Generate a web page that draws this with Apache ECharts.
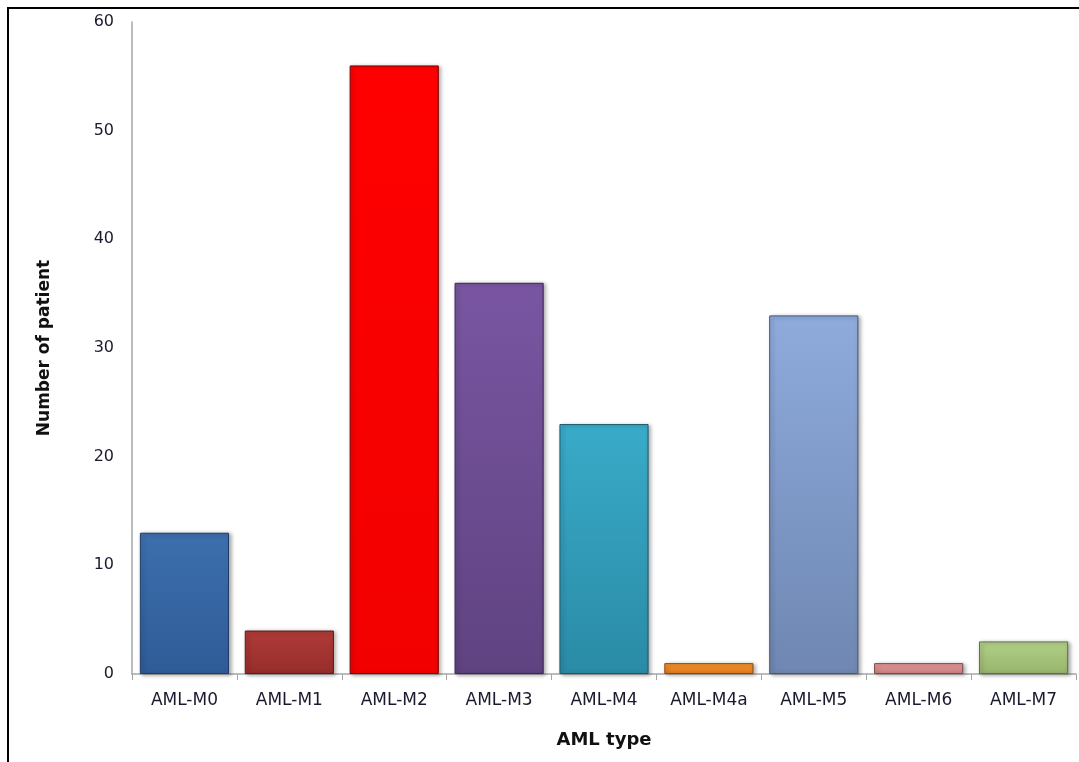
<!DOCTYPE html>
<html lang="en">
<head>
    <meta charset="UTF-8">
    <title>AML type</title>
    <script src="https://cdn.jsdelivr.net/npm/echarts@6/dist/echarts.min.js"></script>
    <style>
        html, body { margin: 0; padding: 0; background: #fff; }
        #frame { position: absolute; left: 7px; top: 7px; width: 1100px; height: 800px;
                 border-left: 2px solid #000; border-top: 2px solid #000; }
        #chart { position: absolute; left: 0; top: 0; width: 1079px; height: 762px; }
    </style>
</head>
<body>
<div id="frame"></div>
<div id="chart"></div>
<script type="text/javascript">
    // data
    var types = ['AML-M0', 'AML-M1', 'AML-M2', 'AML-M3', 'AML-M4', 'AML-M4a', 'AML-M5', 'AML-M6', 'AML-M7'];
    var patients = [13, 4, 56, 36, 23, 1, 33, 1, 3];
    var yTicks = [0, 10, 20, 30, 40, 50, 60];

    // bar colours, top / bottom of the fill
    var topColors = ['#3d6fae', '#b03b38', '#ff0000', '#7a56a2', '#39abc9', '#f7952f', '#8eabdc', '#e79a9a', '#b2cf88'];
    var bottomColors = ['#2f5c97', '#962d2a', '#f20000', '#5f4381', '#2a8ba6', '#e07a1c', '#6f87b2', '#cc8080', '#97b56c'];
    var edgeColors = ['#1f3d66', '#5e1a18', '#7a0000', '#3b2852', '#195a6c', '#8a4a10', '#445877', '#7a4a4a', '#5e7343'];

    var chart = echarts.init(document.getElementById('chart'));

    var barData = [];
    for (var i = 0; i < patients.length; i++) {
        barData.push({
            value: patients[i],
            itemStyle: {
                color: new echarts.graphic.LinearGradient(0, 0, 0, 1, [
                    {offset: 0, color: topColors[i]},
                    {offset: 1, color: bottomColors[i]}
                ]),
                borderColor: edgeColors[i],
                borderWidth: 1,
                shadowColor: 'rgba(0,0,0,0.35)',
                shadowBlur: 4,
                shadowOffsetX: 2,
                shadowOffsetY: 1
            }
        });
    }

    var option = {
        animation: false,
        grid: { left: 132, right: 3, top: 22, bottom: 88 },
        xAxis: {
            type: 'category',
            data: types,
            name: 'AML type',
            nameLocation: 'middle',
            nameGap: 57,
            nameTextStyle: { fontFamily: 'DejaVu Sans', fontWeight: 'bold', fontSize: 18, color: '#111' },
            axisLine: { lineStyle: { color: '#a6a6a6', width: 1.5 } },
            axisTick: { show: true, length: 6, lineStyle: { color: '#a6a6a6' } },
            axisLabel: { margin: 18, fontFamily: 'DejaVu Sans', fontSize: 17, color: '#1a1a2e' }
        },
        yAxis: {
            type: 'value',
            min: yTicks[0],
            max: yTicks[yTicks.length - 1],
            interval: 10,
            name: 'Number of patient',
            nameLocation: 'middle',
            nameRotate: 90,
            nameGap: 79,
            nameTextStyle: { fontFamily: 'DejaVu Sans', fontWeight: 'bold', fontSize: 17, color: '#111' },
            axisLine: { show: true, lineStyle: { color: '#a6a6a6', width: 1.5 } },
            axisTick: { show: false },
            splitLine: { show: false },
            axisLabel: { margin: 18, fontFamily: 'DejaVu Sans', fontSize: 16, color: '#1a1a2e' }
        },
        series: [{
            type: 'bar',
            data: barData,
            barCategoryGap: '15%'
        }]
    };
    chart.setOption(option);
</script>
</body>
</html>
